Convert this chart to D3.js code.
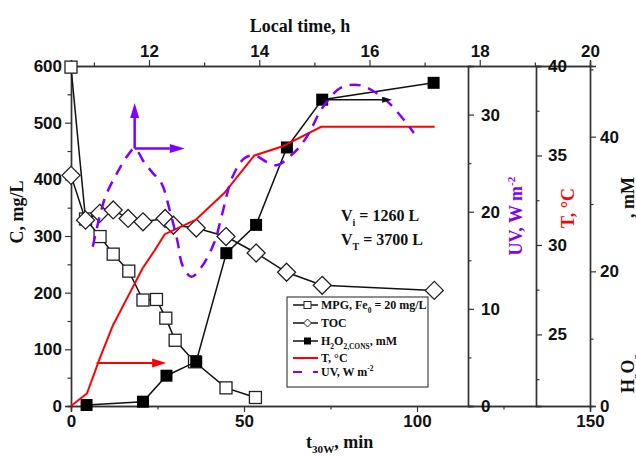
<!DOCTYPE html>
<html>
<head>
<meta charset="utf-8">
<script src="https://cdn.jsdelivr.net/npm/d3@7"></script>
<style>
  body { margin: 0; background: #fff; }
</style>
</head>
<body>
<div class="chart"></div>
<script>
// sampling times (t30W, min) and measured values
var tMPG = [0, 4.2, 8.4, 12.2, 16.7, 20.8, 24.7, 27.4, 30.1, 35.7, 44.8, 53.3];
var mpg = [598, 330, 299, 268, 238, 187, 188, 155, 116, 78, 32, 15];

var tTOC = [0, 4.2, 8.3, 12.2, 16.5, 20.8, 27.2, 29.6, 36.2, 44.8, 53.5, 62.3, 72.6, 105];
var toc = [407, 328, 340, 346, 331, 325, 331, 319, 314, 299, 270, 236, 213, 204];

var tH2O2 = [4.5, 20.8, 27.6, 36.2, 44.9, 53.5, 62.4, 72.6, 104.8];
var h2o2 = [0.15, 0.64, 4.5, 6.6, 22.7, 26.9, 38.4, 45.5, 48.0];

var tTemp = [0, 4.6, 8.4, 12.1, 16.4, 20.7, 24.2, 27.1, 36.0, 44.3, 53.0, 61.0, 72.3, 105.1];
var temp = [21.0, 21.7, 23.7, 25.5, 27.1, 28.7, 29.7, 30.6, 31.4, 32.9, 35.0, 35.5, 36.6, 36.6];

var tUV = [6.3, 9.8, 13.5, 16.4, 18.4, 21.3, 23.6, 26.2, 28.5, 30.8, 32.2, 34.8, 37.7, 41.5, 43.5,
  46.7, 50.1, 53.0, 56.7, 59.6, 63.6, 65.9, 68.8, 72.3, 76.9, 79.8, 83.8, 87.0, 91.9, 97.0, 99.1];
var uv = [16.4, 21.4, 24.1, 25.8, 26.5, 25.0, 24.0, 22.9, 20.2, 16.9, 14.5, 13.3, 14.3, 16.9, 19.5,
  23.6, 25.5, 25.8, 25.1, 24.8, 25.8, 26.6, 28.1, 30.5, 32.5, 33.0, 33.0, 32.5, 31.2, 29.1, 28.1];

// ticks
var xTicks = [0, 50, 100, 150], xMinor = [25, 75, 125];
var hourTicks = [12, 14, 16, 18, 20], hourMinor = [11, 13, 15, 17, 19];
var cTicks = [0, 100, 200, 300, 400, 500, 600], cMinor = [50, 150, 250, 350, 450, 550];
var uvTicks = [0, 10, 20, 30], uvMinor = [5, 15, 25, 35];
var tTicks = [25, 30, 35, 40], tMinor = [22.5, 27.5, 32.5, 37.5];
var hTicks = [0, 20, 40], hMinor = [10, 30, 50];

var margin = { top: 66, left: 71 };
var width = 519, height = 340;
var sans = 'Liberation Sans, Arial, sans-serif';
var serif = 'Liberation Serif, Times New Roman, serif';
var purple = '#7f00ff', red = '#ff0000';

var root = d3.select('.chart').append('svg')
  .attr('width', 636).attr('height', 456);
var svg = root.append('g')
  .attr('transform', `translate(${margin.left}, ${margin.top})`);

var x = d3.scaleLinear().domain([0, 150]).range([0, width]);
var xTop = d3.scaleLinear().domain([10.585, 20]).range([0, width]);
var yC = d3.scaleLinear().domain([0, 600]).range([height, 0]);
var yUV = d3.scaleLinear().domain([0, 35]).range([height, 0]);
var yT = d3.scaleLinear().domain([21, 40]).range([height, 0]);
var yH = d3.scaleLinear().domain([0, 50.5]).range([height, 0]);

function styleAxis(g) {
  g.select('.domain').attr('stroke', '#333').attr('stroke-width', 1.4);
  g.selectAll('.tick line').attr('stroke', '#333').attr('stroke-width', 1.2);
  g.selectAll('text').attr('font-family', sans).attr('font-size', 17)
    .attr('font-weight', 'bold').attr('fill', '#111');
}
function axisPair(make, scale, major, minor, pos, hideLabels) {
  var g = svg.append('g').attr('transform', pos);
  g.call(make(scale).tickValues(minor).tickSize(3.5).tickFormat(''));
  var g2 = svg.append('g').attr('transform', pos);
  g2.call(make(scale).tickValues(major).tickSize(6).tickPadding(3)
    .tickFormat(hideLabels ? '' : d3.format('d')));
  styleAxis(g); styleAxis(g2);
  return g2;
}

axisPair(d3.axisBottom, x, xTicks, xMinor, `translate(0, ${height})`);
axisPair(d3.axisTop, xTop, hourTicks, hourMinor, 'translate(0, 0)');
axisPair(d3.axisLeft, yC, cTicks, cMinor, 'translate(0, 0)');
var uvAx = axisPair(d3.axisRight, yUV, uvTicks, uvMinor, 'translate(397, 0)');
uvAx.selectAll('.tick text').attr('x', 13);
var tAx = axisPair(d3.axisRight, yT, tTicks, tMinor, 'translate(465, 0)');
tAx.selectAll('.tick text').attr('x', 12);
var hAx = axisPair(d3.axisRight, yH, hTicks, hMinor, `translate(${width}, 0)`);
hAx.selectAll('.tick text').attr('x', 10);

// rich text helper for sub/superscripts
function rich(t, parts, fs, subShift) {
  var shift = 0;
  parts.forEach(function (p) {
    var s = p[1] === 'sub' ? fs * (subShift || 0.3) : p[1] === 'sup' ? -fs * 0.4 : 0;
    var ts = t.append('tspan').attr('dy', s - shift)
      .attr('font-size', p[1] ? fs * 0.62 : fs).text(p[0]);
    if (p[2]) ts.attr('dx', p[2]);
    shift = s;
  });
  return t;
}
function label(px, py, rot, color, anchor, fs) {
  return root.append('text')
    .attr('transform', `translate(${px}, ${py}) rotate(${rot})`)
    .attr('font-family', serif).attr('font-weight', 'bold')
    .attr('font-size', fs).attr('fill', color).attr('text-anchor', anchor);
}

// axis titles
label(300, 32, 0, '#111', 'middle', 18).text('Local time, h');
rich(label(306, 448, 0, '#111', 'start', 18), [['t'], ['30W', 'sub'], [', min']], 18);
label(23, 212, -90, '#111', 'middle', 18).text('C, mg/L');
rich(label(522, 216, -90, purple, 'middle', 18), [['UV, W m'], ['-2', 'sup']], 18);
label(574, 208, -90, red, 'middle', 18).text('T, \u00B0C');
rich(label(634, 393, -90, '#111', 'start', 18),
  [['H'], ['2', 'sub'], ['O'], ['2,cons', 'sub'], [', mM', null, 112]], 18, 0.45);

// series
var lineC = d3.line().x(d => x(d[0])).y(d => yC(d[1]));
var mpgData = tMPG.map((t, i) => [t, mpg[i]]);
var tocData = tTOC.map((t, i) => [t, toc[i]]);
var h2o2Data = tH2O2.map((t, i) => [t, h2o2[i]]);
var tempData = tTemp.map((t, i) => [t, temp[i]]);
var uvData = tUV.map((t, i) => [t, uv[i]]);

svg.append('path').datum(mpgData).attr('d', lineC)
  .attr('fill', 'none').attr('stroke', '#111').attr('stroke-width', 1.5);
svg.selectAll('.mpg').data(mpgData).enter().append('rect')
  .attr('x', d => x(d[0]) - 6).attr('y', d => yC(d[1]) - 6)
  .attr('width', 12).attr('height', 12)
  .attr('fill', '#fff').attr('stroke', '#222').attr('stroke-width', 1.3);

svg.append('path').datum(tocData).attr('d', lineC)
  .attr('fill', 'none').attr('stroke', '#111').attr('stroke-width', 1.5);
svg.selectAll('.toc').data(tocData).enter().append('path')
  .attr('d', 'M0,-9L9,0L0,9L-9,0Z')
  .attr('transform', d => `translate(${x(d[0])}, ${yC(d[1])})`)
  .attr('fill', '#fff').attr('stroke', '#222').attr('stroke-width', 1.3);

svg.append('path').datum(h2o2Data)
  .attr('d', d3.line().x(d => x(d[0])).y(d => yH(d[1])))
  .attr('fill', 'none').attr('stroke', '#111').attr('stroke-width', 1.5);
svg.selectAll('.h2o2').data(h2o2Data).enter().append('rect')
  .attr('x', d => x(d[0]) - 6).attr('y', d => yH(d[1]) - 6)
  .attr('width', 12).attr('height', 12).attr('fill', '#000');

svg.append('path').datum(tempData)
  .attr('d', d3.line().x(d => x(d[0])).y(d => yT(d[1])))
  .attr('fill', 'none').attr('stroke', red).attr('stroke-width', 2);

svg.append('path').datum(uvData)
  .attr('d', d3.line().curve(d3.curveCatmullRom).x(d => x(d[0])).y(d => yUV(d[1])))
  .attr('fill', 'none').attr('stroke', purple).attr('stroke-width', 2.5)
  .attr('stroke-dasharray', '11,8');

// annotation arrows (data coordinates)
function arrow(x1, y1, x2, y2, color, w, hl, hw) {
  var a = Math.atan2(y2 - y1, x2 - x1), c = Math.cos(a), s = Math.sin(a);
  var bx = x2 - hl * c, by = y2 - hl * s;
  svg.append('line').attr('x1', x1).attr('y1', y1).attr('x2', bx).attr('y2', by)
    .attr('stroke', color).attr('stroke-width', w);
  svg.append('path')
    .attr('d', `M${x2},${y2}L${bx - hw / 2 * s},${by + hw / 2 * c}L${bx + hw / 2 * s},${by - hw / 2 * c}Z`)
    .attr('fill', color);
}
var uvPeak = [18.4, 26.5];
arrow(x(uvPeak[0]), yUV(uvPeak[1]), x(uvPeak[0]), yUV(31.2), purple, 2.5, 15, 9);
arrow(x(uvPeak[0]), yUV(uvPeak[1]), x(32.9), yUV(uvPeak[1]), purple, 2.5, 15, 9);
arrow(x(7.4), yT(23.4), x(27.5), yT(23.4), red, 2, 14, 9);
arrow(x(72.6), yH(45.5), x(92.8), yH(45.5), '#111', 1.5, 10, 6);

// volume notes
rich(label(341, 221, 0, '#111', 'start', 16), [['V'], ['i', 'sub'], [' = 1260 L']], 16);
rich(label(341, 245, 0, '#111', 'start', 16), [['V'], ['T', 'sub'], [' = 3700 L']], 16);

// legend
var lg = root.append('g').attr('transform', 'translate(287, 297)');
lg.append('rect').attr('width', 141).attr('height', 90)
  .attr('fill', '#fff').attr('stroke', '#444').attr('stroke-width', 1.2);
var rows = [8, 26, 44, 61, 75];
var lgText = [
  [['MPG, Fe'], ['0', 'sub'], [' = 20 mg/L']],
  [['TOC']],
  [['H'], ['2', 'sub'], ['O'], ['2,CONS', 'sub'], [', mM']],
  [['T, \u00B0C']],
  [['UV, W m'], ['-2', 'sup']]
];
rows.forEach(function (ry, i) {
  var l = lg.append('line').attr('x1', 6).attr('x2', 31).attr('y1', ry).attr('y2', ry)
    .attr('stroke', i === 3 ? red : i === 4 ? purple : '#111')
    .attr('stroke-width', i >= 3 ? 2 : 1.5);
  if (i === 4) l.attr('stroke-dasharray', '9,11');
  if (i === 0) lg.append('rect').attr('x', 17).attr('y', ry - 3.5).attr('width', 7).attr('height', 7)
    .attr('fill', '#fff').attr('stroke', '#222');
  if (i === 1) lg.append('path').attr('d', 'M0,-4L4,0L0,4L-4,0Z')
    .attr('transform', `translate(20.5, ${ry})`).attr('fill', '#fff').attr('stroke', '#222');
  if (i === 2) lg.append('rect').attr('x', 17).attr('y', ry - 3.5).attr('width', 7).attr('height', 7)
    .attr('fill', '#000');
  var t = lg.append('text').attr('x', 34).attr('y', ry + 4)
    .attr('font-family', serif).attr('font-weight', 'bold').attr('font-size', 12).attr('fill', '#111');
  rich(t, lgText[i], 12);
});
</script>
</body>
</html>
